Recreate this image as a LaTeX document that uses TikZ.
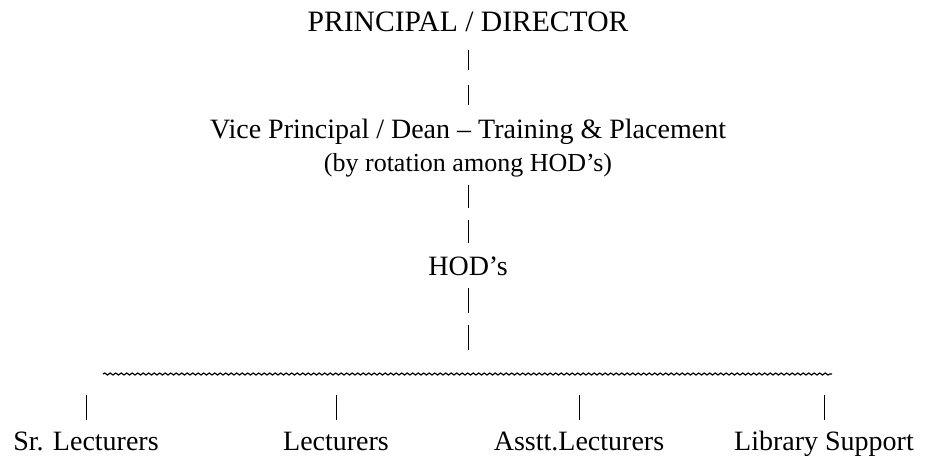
\documentclass[tikz,border=0pt]{standalone}
\usepackage{fontspec}
\setmainfont{Liberation Serif}
\usepackage{tikz}
\usetikzlibrary{decorations.pathmorphing}

\tikzset{
  post/.style={anchor=base, inner sep=0pt, font=\fontsize{14}{16}\selectfont},
  head/.style={post, font=\fontsize{14.8}{16}\selectfont},
  note/.style={anchor=base, inner sep=0pt, font=\fontsize{13}{15}\selectfont},
  bar/.style={line width=0.5pt},
  wave/.style={decorate, decoration={snake, segment length=2.75pt, amplitude=0.5pt}, line width=0.6pt}
}

\begin{document}
\begin{tikzpicture}[x=0.5pt,y=-0.5pt]
  \useasboundingbox (0,0) rectangle (925,455);
  \node[head] (pr)  at (468,32)  {PRINCIPAL / DIRECTOR};
  \node[post] (vp)  at (468,138) {Vice Principal / Dean -- Training \& Placement};
  \node[note] (rot) at (468,171) {(by rotation among HOD's)};
  \node[post] (hod) at (468,275) {HOD's};
  \coordinate (wl) at (103,374);
  \coordinate (wr) at (832,374);
  \node[post] (sr)  at (86,450)  {Sr. Lecturers};
  \node[post] (lec) at (336,450) {Lecturers};
  \node[post] (asl) at (579,450) {Asstt.Lecturers};
  \node[post] (lib) at (824,450) {Library Support};
  \draw[bar, dash pattern=on 10pt off 7.5pt, shorten <=9pt, shorten >=16.5pt] (pr.base) -- (vp.base);
  \draw[bar, dash pattern=on 11.5pt off 6pt, shorten <=7pt, shorten >=16pt] (rot.base) -- (hod.base);
  \draw[bar, dash pattern=on 12.5pt off 6pt, shorten <=6.5pt, shorten >=12pt] (hod.base) -- (hod.base |- wl);
  \draw[wave] (wl) -- (wr);
  \foreach \n in {sr,lec,asl,lib}
    \draw[bar, shorten <=10.5pt, shorten >=15pt] (\n.base |- wl) -- (\n.base);
\end{tikzpicture}
\end{document}
